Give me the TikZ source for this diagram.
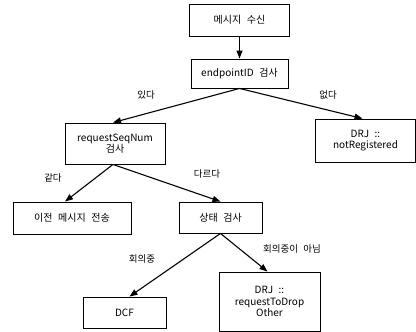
\documentclass[tikz,border=0pt]{standalone}
\usepackage{fontspec}
\setmainfont{Noto Sans CJK KR}[WordSpace=2.5]
\usetikzlibrary{arrows.meta}
\tikzset{
  box/.style={draw, line width=0.9pt, rectangle, inner sep=0pt, align=center,
    font=\fontsize{10}{11.5}\selectfont},
  lbl/.style={inner sep=0pt, font=\fontsize{9.5}{10}\selectfont},
  conn/.style={line width=1.1pt, -{Triangle[length=8pt,width=6pt]}}
}
\begin{document}
\begin{tikzpicture}[x=1pt,y=-1pt]
\useasboundingbox (0,0) rectangle (416,332);
\node[box, minimum width=100pt, minimum height=32pt] (b1) at (239.5,20) {메시지 수신};
\node[box, minimum width=97pt, minimum height=29pt] (b2) at (239.5,73.5) {endpointID 검사};
\node[box, minimum width=100pt, minimum height=41pt] (b3) at (115,143.5) {requestSeqNum\\검사};
\node[box, minimum width=100pt, minimum height=43pt] (b4) at (365.5,140.5) {DRJ ::\\notRegistered};
\node[box, minimum width=118pt, minimum height=32pt] (b5) at (72,218) {이전 메시지 전송};
\node[box, minimum width=83pt, minimum height=31pt] (b6) at (220.5,217.5) {상태 검사};
\node[box, minimum width=83pt, minimum height=31pt] (b7) at (124.5,312.5) {DCF};
\node[box, minimum width=101pt, minimum height=59pt] (b8) at (269.5,301.5) {DRJ ::\\requestToDrop\\Other};

\node[lbl] (l1) at (146,95) {있다};
\node[lbl] (l2) at (328,95) {없다};
\node[lbl] (l3) at (53,178) {같다};
\node[lbl] (l4) at (207,174) {다르다};
\node[lbl] (l5) at (142,259) {회의중};
\node[lbl] (l6) at (292,249) {회의중이 아님};

\draw[conn] (b1.south) -- (b2.north);
\draw[conn] (b2.south) -- ([xshift=-2pt]b3.north);
\draw[conn] (b2.south) -- ([xshift=-3pt]b4.north);
\draw[conn] ([xshift=-2pt]b3.south) -- ([xshift=-7pt]b5.north);
\draw[conn] ([xshift=-2pt]b3.south) -- (b6.north);
\draw[conn] (b6.south) -- ([xshift=5pt]b7.north);
\draw[conn] (b6.south) -- ([xshift=-2pt]b8.north);
\end{tikzpicture}
\end{document}
